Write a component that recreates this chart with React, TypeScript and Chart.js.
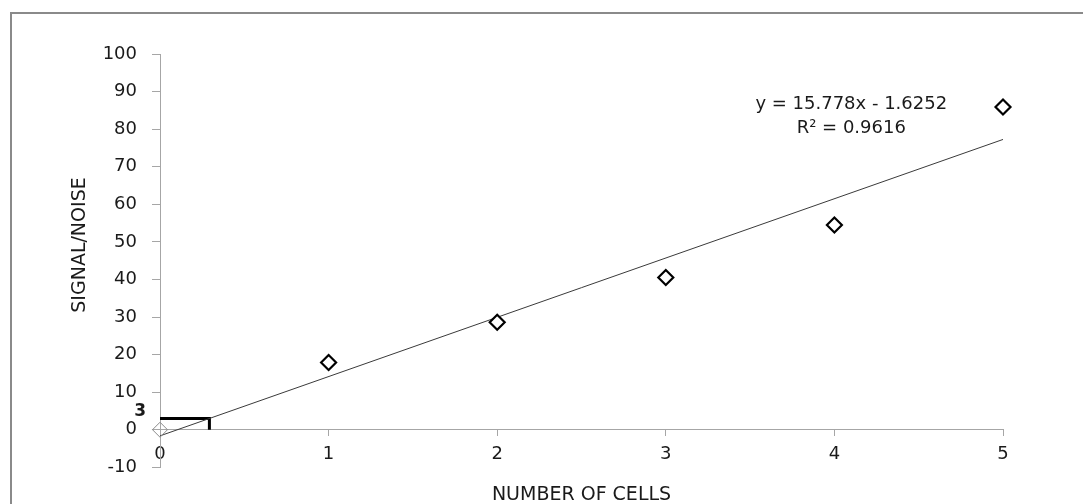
import React, { useEffect, useRef } from 'react';
import { Chart, registerables } from 'chart.js';

Chart.register(...registerables);

// ---- data ----
const cellCounts = [0, 1, 2, 3, 4, 5];
const signalNoise = [0, 17.9, 28.6, 40.5, 54.5, 85.9];
const trendX = [0, 5];
const trendY = [-1.63, 77.26];
const markerX = [0, 0.293, 0.293];
const markerY = [3, 3, 0];
const equationText = 'y = 15.778x - 1.6252';
const rSquaredText = 'R² = 0.9616';
const markerLabel = '3';
const xTitle = 'NUMBER OF CELLS';
const yTitle = 'SIGNAL/NOISE';

const FONT = 'DejaVu Sans';
const TEXT = '#1a1a1a';
const AXIS = '#a6a6a6';

const decorPlugin = {
  id: 'decor',
  beforeDraw(chart: any) {
    const ctx = chart.ctx;
    ctx.save();
    ctx.fillStyle = '#ffffff';
    ctx.fillRect(0, 0, chart.width, chart.height);
    ctx.strokeStyle = '#8a8a8a';
    ctx.lineWidth = 2;
    ctx.strokeRect(11, 13, 1200, 700);
    ctx.restore();
  },
  afterDraw(chart: any) {
    const ctx = chart.ctx;
    const xs = chart.scales.x;
    const ys = chart.scales.y;
    ctx.save();
    ctx.fillStyle = TEXT;
    ctx.textBaseline = 'middle';
    // trend line equation
    ctx.font = `18px "${FONT}"`;
    ctx.textAlign = 'center';
    const ex = xs.getPixelForValue(4.1);
    ctx.fillText(equationText, ex, ys.getPixelForValue(86.5));
    ctx.fillText(rSquaredText, ex, ys.getPixelForValue(80.2));
    // marker label
    ctx.font = `bold 17px "${FONT}"`;
    ctx.textAlign = 'right';
    ctx.fillText(markerLabel, xs.left - 14, ys.getPixelForValue(4.7));
    // y title
    ctx.font = `19px "${FONT}"`;
    ctx.textAlign = 'center';
    ctx.translate(80, 245);
    ctx.rotate(-Math.PI / 2);
    ctx.fillText(yTitle, 0, 0);
    ctx.restore();
  },
};

export default function App() {
  const ref = useRef<HTMLCanvasElement | null>(null);
  useEffect(() => {
    if (!ref.current) return;
    const chart = new Chart(ref.current, {
      type: 'scatter',
      data: {
        datasets: [
          {
            label: 'Signal/Noise',
            data: cellCounts.map((x, i) => ({ x, y: signalNoise[i] })),
            pointStyle: 'rectRot',
            pointRadius: 7.5,
            pointBorderWidth: cellCounts.map((_, i) => (i === 0 ? 1 : 2.2)),
            pointBorderColor: cellCounts.map((_, i) => (i === 0 ? '#8c8c8c' : '#000000')),
            pointBackgroundColor: cellCounts.map((_, i) => (i === 0 ? 'rgba(0,0,0,0)' : '#ffffff')),
            showLine: false,
            clip: false,
          },
          {
            label: 'Trend',
            data: trendX.map((x, i) => ({ x, y: trendY[i] })),
            showLine: true,
            borderColor: '#3a3a3a',
            borderWidth: 1,
            pointRadius: 0,
          },
          {
            label: 'Marker',
            data: markerX.map((x, i) => ({ x, y: markerY[i] })),
            showLine: true,
            borderColor: '#000000',
            borderWidth: 3,
            pointRadius: 0,
            borderCapStyle: 'butt',
            borderJoinStyle: 'miter',
            clip: false,
          },
        ],
      },
      options: {
        responsive: false,
        animation: false,
        events: [],
        layout: { padding: { left: 20, right: 80, top: 54, bottom: 36.7 } },
        plugins: { legend: { display: false }, tooltip: { enabled: false } },
        scales: {
          x: {
            type: 'linear',
            position: { y: 0 } as any,
            min: 0,
            max: 5,
            ticks: { stepSize: 1, font: { family: FONT, size: 18 }, color: TEXT, padding: 8 },
            grid: { drawOnChartArea: false, drawTicks: true, tickLength: 6, color: AXIS, tickColor: AXIS },
            border: { color: AXIS, width: 1 },
            title: {
              display: true,
              text: xTitle,
              font: { family: FONT, size: 19 },
              color: TEXT,
              padding: { top: 10, bottom: 0 },
            },
          },
          y: {
            type: 'linear',
            position: 'left',
            min: -10,
            max: 100,
            afterFit: (s: any) => {
              s.width = 140;
              s.paddingTop = 10;
              s.paddingBottom = 10;
            },
            ticks: { stepSize: 10, font: { family: FONT, size: 18 }, color: TEXT, padding: 15 },
            grid: { drawOnChartArea: false, drawTicks: true, tickLength: 8, color: AXIS, tickColor: AXIS },
            border: { color: AXIS, width: 1 },
          },
        },
      },
      plugins: [decorPlugin],
    });
    return () => chart.destroy();
  }, []);
  return (
    <div style={{ position: 'absolute', left: 0, top: 0, width: 1083, height: 504 }}>
      <canvas ref={ref} width={1083} height={504} style={{ display: 'block' }} />
    </div>
  );
}
